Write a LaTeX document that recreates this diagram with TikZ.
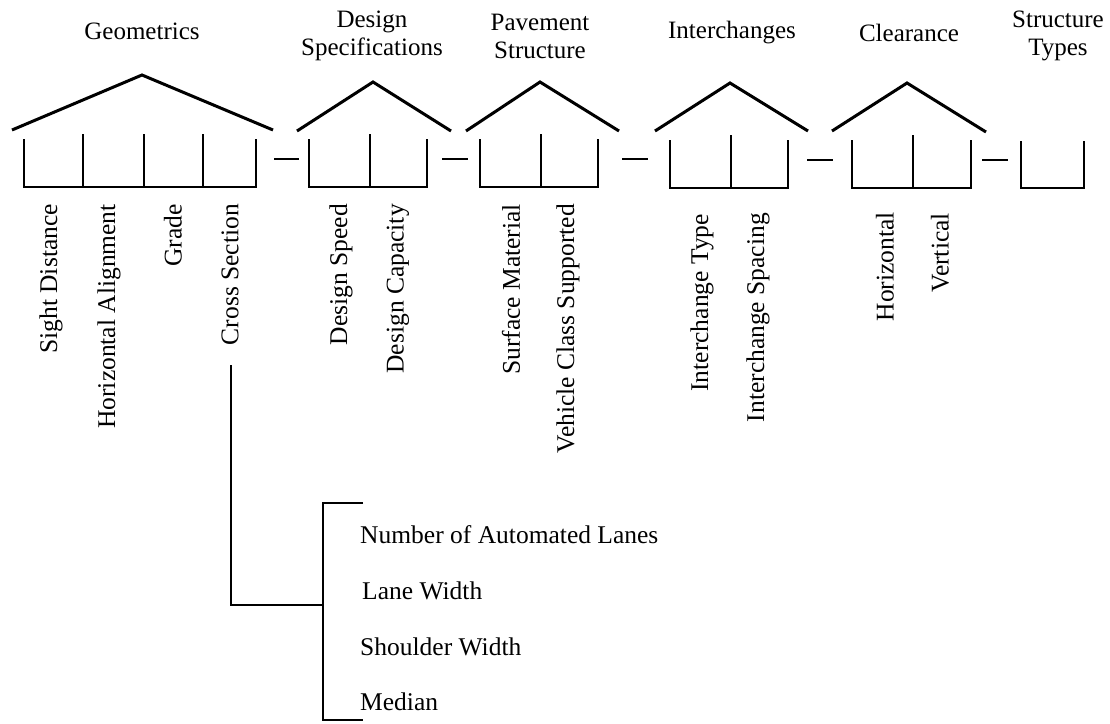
\documentclass[tikz,border=0pt]{standalone}
\usepackage{fontspec}
\setmainfont{Liberation Serif}
\begin{document}
\begin{tikzpicture}[x=1pt,y=-1pt,
  txt/.style={font=\fontsize{25}{28}\selectfont, inner sep=0pt},
  txtb/.style={font=\fontsize{25.5}{28}\selectfont, inner sep=0pt},
  head/.style={txt, align=center},
  sub/.style={txtb, rotate=90, anchor=east},
  item/.style={txtb, anchor=base west},
  roof/.style={line width=3pt, line join=miter},
  frame/.style={line width=2pt},
  link/.style={line width=2pt}]
\useasboundingbox (0,0) rectangle (1110,723);

% headings
\node[head] (hGeo) at (142,31) {Geometrics};
\node[head] (hDes) at (372,36) {Design\\Specifications};
\node[head] (hPav) at (540,36) {Pavement\\Structure};
\node[head] (hInt) at (732,33) {Interchanges};
\node[head] (hClr) at (909,33) {Clearance};
\node[head] (hStr) at (1058,36) {Structure\\Types};

% roofs
\draw[roof] (12,130) -- (142,75) -- (273,130);
\draw[roof] (297,131) -- (373,82) -- (451,131);
\draw[roof] (466,131) -- (540,82) -- (619,131);
\draw[roof] (655,131) -- (730,83) -- (808,131);
\draw[roof] (832,131) -- (907,83) -- (986,132);

% compartment boxes
\draw[frame] (24,139) -- (24,187) -- (256,187) -- (256,139);
\foreach \x in {83,144,203} \draw[frame] (\x,134) -- (\x,187);
\draw[frame] (309,139) -- (309,187) -- (427,187) -- (427,139);
\draw[frame] (370,134) -- (370,187);
\draw[frame] (480,139) -- (480,187) -- (598,187) -- (598,139);
\draw[frame] (541,134) -- (541,187);
\draw[frame] (670,140) -- (670,188) -- (788,188) -- (788,140);
\draw[frame] (731,135) -- (731,188);
\draw[frame] (852,140) -- (852,188) -- (971,188) -- (971,140);
\draw[frame] (913,135) -- (913,188);
\draw[frame] (1021,141) -- (1021,188) -- (1084,188) -- (1084,141);

% links between the boxes
\coordinate (a1) at (274,159); \coordinate (b1) at (299,159);
\coordinate (a2) at (442,159); \coordinate (b2) at (468,159);
\coordinate (a3) at (622,159); \coordinate (b3) at (648,159);
\coordinate (a4) at (807,160); \coordinate (b4) at (833,160);
\coordinate (a5) at (982,160); \coordinate (b5) at (1008,160);
\foreach \i in {1,...,5} \draw[link] (a\i) -- (b\i);

% sub-items
\node[sub] (sd) at (51,204) {Sight Distance};
\node[sub] (ha) at (109,204) {Horizontal Alignment};
\node[sub] (gr) at (173,204) {Grade};
\node[sub] (cs) at (230,204) {Cross Section};
\node[sub] (ds) at (341,204) {Design Speed};
\node[sub] (dc) at (398,204) {Design Capacity};
\node[sub] (sm) at (511,204) {Surface Material};
\node[sub] (vc) at (568,204) {Vehicle Class Supported};
\node[sub] (it) at (702,214) {Interchange Type};
\node[sub] (is) at (758,213) {Interchange Spacing};
\node[sub] (ho) at (885,212) {Horizontal};
\node[sub] (ve) at (940,213) {Vertical};

% cross section breakdown
\coordinate (csTop) at (231,365);
\coordinate (csBend) at (231,605);
\coordinate (brMid) at (323,605);
\coordinate (brTop) at (323,503);
\coordinate (brBot) at (323,720);
\coordinate (tkTop) at (363,503);
\coordinate (tkBot) at (363,720);
\draw[link] (csTop) -- (csBend) -- (brMid);
\draw[link] (tkTop) -- (brTop) -- (brBot) -- (tkBot);

\node[item] (n1) at (360,543) {Number of Automated Lanes};
\node[item] (n2) at (362,599) {Lane Width};
\node[item] (n3) at (360,655) {Shoulder Width};
\node[item] (n4) at (360,710) {Median};
\end{tikzpicture}
\end{document}
